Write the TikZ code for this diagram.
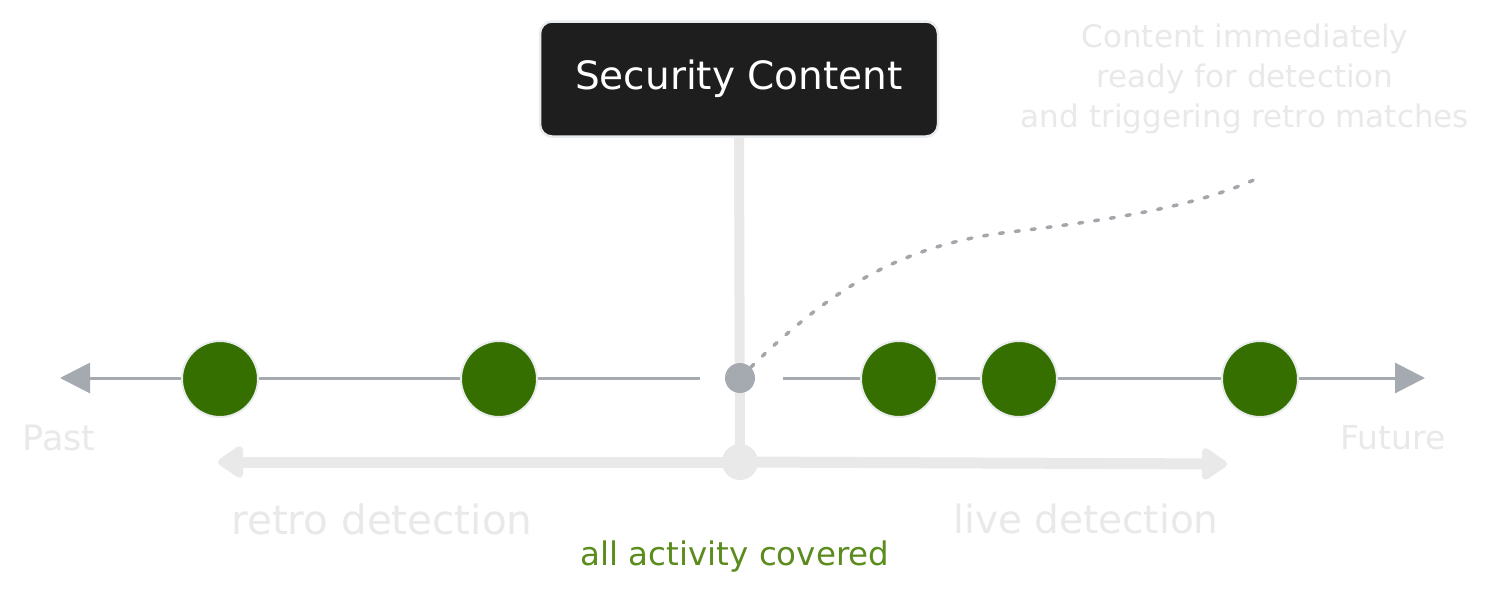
\documentclass[tikz,border=0pt]{standalone}
\usepackage{fontspec}
\setmainfont{DejaVu Sans}
\usetikzlibrary{arrows.meta}
\definecolor{boxblack}{HTML}{1E1E1E}
\definecolor{rim}{HTML}{E9ECEF}
\definecolor{faint}{HTML}{E9E9E9}
\definecolor{axisgray}{HTML}{A5A9B0}
\definecolor{dotgray}{HTML}{A3A6AB}
\definecolor{eventgreen}{HTML}{346F00}
\definecolor{textgreen}{HTML}{5B8C1E}

\begin{document}
\begin{tikzpicture}[x=1pt,y=-1pt,
  event/.style={circle,fill=eventgreen,draw=rim,line width=2pt,minimum size=76pt,inner sep=0pt},
  faintlabel/.style={text=faint,inner sep=0pt},
  axis/.style={draw=axisgray,line width=3pt,-{Triangle[length=30pt,width=30pt]}},
  span/.style={draw=faint,line width=11pt,line cap=round,-{Triangle[length=28pt,width=36pt,round]}}]
\useasboundingbox[fill=white] (0,0) rectangle (1492,600);
\node[draw=rim,fill=boxblack,line width=2.5pt,rounded corners=12pt,minimum width=398pt,minimum height=115pt,text=white,font=\fontsize{39}{44}\selectfont] (content) at (739,79) {Security Content};
\node[circle,fill=faint,minimum size=36pt,inner sep=0pt] (hub) at (740,462) {};
\draw[faint,line width=10pt] (content.south) -- (hub.center);
\coordinate (gapL) at (700,378);
\coordinate (gapR) at (783,378);
\coordinate (pastTip) at (60,378);
\coordinate (futureTip) at (1425,378);
\draw[axis] (gapL) -- (pastTip);
\draw[axis] (gapR) -- (futureTip);
\node[circle,fill=axisgray,minimum size=30pt,inner sep=0pt] (now) at (740,378) {};
\foreach \n/\x in {e1/220,e2/499,e3/899,e4/1019,e5/1260}
  \node[event] (\n) at (\x,379) {};
\coordinate (retroTip) at (218,462);
\coordinate (liveTip) at (1227,464);
\draw[span] (hub.center) -- (retroTip);
\draw[span] (hub.center) -- (liveTip);
\node[faintlabel,align=center,font=\fontsize{31}{40}\selectfont] (note) at (1245,79) {Content immediately\\ready for detection\\and triggering retro matches};
\coordinate (noteEnd) at (1258,178);
\draw[dotgray,line width=3.5pt,dash pattern=on 4pt off 12pt,line cap=round] (now.north east) .. controls (830,290) and (900,245) .. (1010,232) .. controls (1120,219) and (1200,205) .. (noteEnd);
\node[faintlabel,font=\fontsize{35}{40}\selectfont] (past) at (59,438) {Past};
\node[faintlabel,font=\fontsize{33}{40}\selectfont] (future) at (1393,438) {Future};
\node[faintlabel,font=\fontsize{40.5}{46}\selectfont] (retro) at (382,519) {retro detection};
\node[faintlabel,font=\fontsize{39}{44}\selectfont] (live) at (1086,519) {live detection};
\node[text=textgreen,inner sep=0pt,font=\fontsize{32.5}{38}\selectfont] (covered) at (735,557) {all activity covered};
\end{tikzpicture}
\end{document}
